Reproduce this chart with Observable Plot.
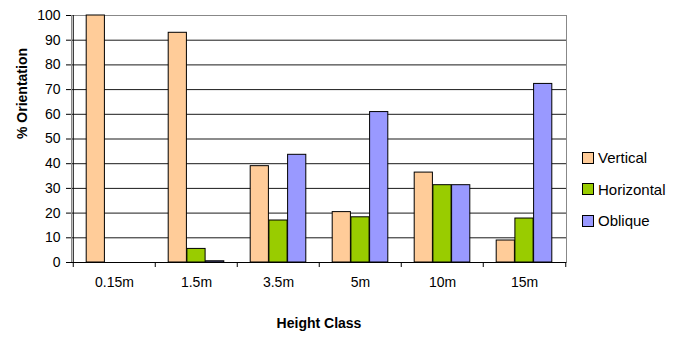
<!DOCTYPE html>
<html>
<head>
<meta charset="utf-8">
<script src="https://cdn.jsdelivr.net/npm/d3@7"></script>
<script src="https://cdn.jsdelivr.net/npm/@observablehq/plot@0.6"></script>
<style>
  body { margin: 0; background: #fff; font-family: "Liberation Sans", Arial, sans-serif; }
  #wrap { position: relative; width: 686px; height: 337px; }
  #legend { position: absolute; left: 582px; top: 142px; font-size: 15px; color: #000; }
  .row { display: flex; align-items: center; height: 31.5px; }
  .sw { width: 10px; height: 10px; border: 1px solid #000; margin-right: 4px; box-sizing: content-box; }
</style>
</head>
<body>
<div id="wrap"></div>
<script>
const categories = ["0.15m", "1.5m", "3.5m", "5m", "10m", "15m"];
const series = ["Vertical", "Horizontal", "Oblique"];
const vertical = [100, 93, 39, 20.4, 36.4, 8.9];
const horizontal = [0, 5.5, 17, 18.3, 31.3, 17.8];
const oblique = [0, 0.5, 43.6, 60.9, 31.3, 72.3];
const colors = ["#FFCC99", "#99CC00", "#9999FF"];
const yTicks = [0, 10, 20, 30, 40, 50, 60, 70, 80, 90, 100];
const xTitle = "Height Class";
const yTitle = "% Orientation";

const W = 686, H = 337, ML = 71, MR = 120, MT = 15, MB = 75;
const band = (W - ML - MR) / categories.length;
const barW = band * 0.2267;
const inset = (band - barW) / 2;

const valuesBySeries = [vertical, horizontal, oblique];
const rows = series.map((s, si) => categories.map((c, i) => ({category: c, series: s, value: valuesBySeries[si][i]})));

const barMarks = rows.map((data, si) => Plot.barY(data, {
  x: "category", y: "value", fill: colors[si], stroke: "#000", strokeWidth: 1,
  insetLeft: inset, insetRight: inset, dx: (si - 1) * barW
}));

const chart = Plot.plot({
  width: W, height: H,
  marginLeft: ML, marginRight: MR, marginTop: MT, marginBottom: MB,
  style: {fontFamily: "'Liberation Sans', Arial, sans-serif", fontSize: "14px", color: "#000", background: "#fff"},
  x: {type: "band", domain: categories, padding: 0, label: null},
  y: {domain: [0, 100], label: null},
  marks: [
    Plot.gridY(yTicks.filter(d => d > 0), {stroke: "#000", strokeOpacity: 0.9}),
    Plot.frame({stroke: "#888"}),
    ...barMarks,
    Plot.ruleY([0], {stroke: "#000"}),
    Plot.tickX([categories[0]], {x: d => d, dx: -band / 2, stroke: "#000"}),
    Plot.axisY({ticks: yTicks, tickSize: 5, tickPadding: 6, fontSize: 14, label: null}),
    Plot.axisX({tickSize: 0, tickPadding: 15, fontSize: 14, label: null}),
    Plot.axisX({tickSize: 5, tickFormat: () => "", dx: -band / 2, label: null}),
    Plot.axisX({ticks: [categories[categories.length - 1]], tickSize: 5, tickFormat: () => "", dx: band / 2, label: null}),
    Plot.text([yTitle], {frameAnchor: "left", rotate: -90, dx: -49, fontWeight: "bold", fontSize: 14}),
    Plot.text([xTitle], {frameAnchor: "bottom", dy: 65, fontWeight: "bold", fontSize: 14})
  ]
});

const wrap = document.getElementById("wrap");
wrap.appendChild(chart);

const legend = document.createElement("div");
legend.id = "legend";
series.forEach((s, i) => {
  const row = document.createElement("div");
  row.className = "row";
  const sw = document.createElement("div");
  sw.className = "sw";
  sw.style.background = colors[i];
  const t = document.createElement("span");
  t.textContent = s;
  row.appendChild(sw);
  row.appendChild(t);
  legend.appendChild(row);
});
wrap.appendChild(legend);
</script>
</body>
</html>
